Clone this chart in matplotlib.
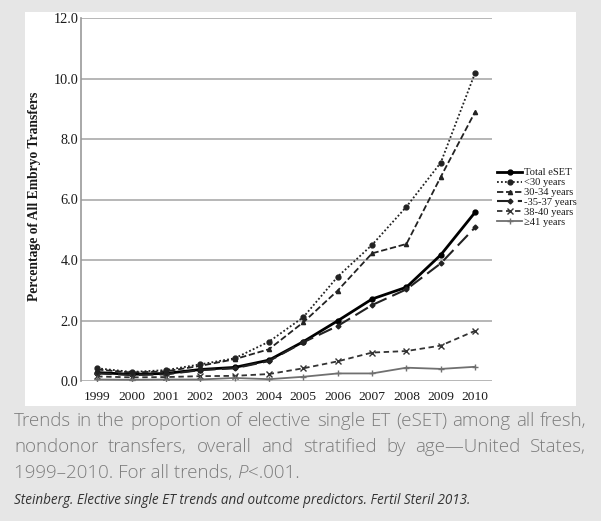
import matplotlib
matplotlib.use("Agg")
import matplotlib.pyplot as plt
from matplotlib.patches import Rectangle

years = [1999, 2000, 2001, 2002, 2003, 2004, 2005, 2006, 2007, 2008, 2009, 2010]
total_eset = [0.28, 0.22, 0.25, 0.38, 0.45, 0.69, 1.30, 1.99, 2.71, 3.10, 4.17, 5.58]
under_30 = [0.42, 0.30, 0.36, 0.55, 0.75, 1.30, 2.11, 3.45, 4.50, 5.76, 7.22, 10.19]
age_30_34 = [0.38, 0.28, 0.32, 0.50, 0.72, 1.05, 1.94, 2.99, 4.22, 4.53, 6.75, 8.90]
age_35_37 = [0.25, 0.20, 0.22, 0.36, 0.42, 0.66, 1.28, 1.82, 2.51, 3.03, 3.89, 5.08]
age_38_40 = [0.15, 0.12, 0.13, 0.16, 0.17, 0.23, 0.42, 0.65, 0.94, 0.99, 1.17, 1.66]
age_41 = [0.05, 0.04, 0.05, 0.05, 0.10, 0.06, 0.14, 0.25, 0.25, 0.44, 0.40, 0.47]
labels = ["Total eSET", "<30 years", "30-34 years", "-35-37 years", "38-40 years", "\u226541 years"]
yticks = [0.0, 2.0, 4.0, 6.0, 8.0, 10.0, 12.0]

caption1 = "Trends in the proportion of elective single ET (eSET) among all fresh,"
caption2 = "nondonor transfers, overall and stratified by age\u2014United States,"
caption3_parts = [("1999\u20132010. For all trends, ", "normal"), ("P", "italic"), ("<.001.", "normal")]
citation = "Steinberg. Elective single ET trends and outcome predictors. Fertil Steril 2013."

W, H = 601, 521
fig = plt.figure(figsize=(W / 100, H / 100), dpi=100)
fig.patch.set_facecolor("#e6e6e6")
fig.patches.append(Rectangle((25 / W, 1 - 406 / H), 551 / W, 394 / H,
                             transform=fig.transFigure, facecolor="white",
                             edgecolor="none", zorder=-5))

ax = fig.add_axes([81 / W, 1 - 381 / H, (492 - 81) / W, (381 - 18) / H])
ax.set_zorder(2)
ax.set_facecolor("none")
serif = "Liberation Serif"

styles = [
    dict(color="black", lw=2.0, ls="-", marker="o", ms=3.5),
    dict(color="#222222", lw=1.3, ls=(0, (1, 1.2)), marker="o", ms=3.5),
    dict(color="#222222", lw=1.3, ls=(0, (3.5, 1.5)), marker="^", ms=3),
    dict(color="#222222", lw=1.5, ls=(0, (7, 3)), marker="D", ms=2.5),
    dict(color="#333333", lw=1.3, ls=(0, (3, 2)), marker="x", ms=4),
    dict(color="#707070", lw=1.3, ls="-", marker="+", ms=5),
]
series = [total_eset, under_30, age_30_34, age_35_37, age_38_40, age_41]
for vals, lab, st in zip(series, labels, styles):
    ax.plot(years, vals, label=lab, mew=1.0, **st)

ax.set_xlim(1998.53, 2010.49)
ax.set_ylim(0, 12)
ax.set_yticks(yticks)
ax.set_yticklabels([f"{v:.1f}" for v in yticks], fontsize=10.3, family=serif, color="#1a1a1a")
ax.set_xticks(years)
ax.set_xticklabels([str(y) for y in years], fontsize=9.7, family=serif, color="#1a1a1a")
ax.tick_params(axis="both", length=0)
ax.tick_params(axis="y", pad=2)
ax.tick_params(axis="x", pad=7)
ax.grid(axis="y", color="#aaaaaa", lw=1.2)
ax.set_axisbelow(True)
for s in ["top", "right", "bottom"]:
    ax.spines[s].set_visible(False)
ax.spines["left"].set_color("#999999")
ax.spines["left"].set_linewidth(1.2)

fig.text(35 / W, 1 - 196 / H, "Percentage of All Embryo Transfers", rotation=90,
         ha="center", va="center", fontsize=9.8, fontweight="bold", family=serif,
         color="#1a1a1a")

leg = fig.legend(loc="upper left", bbox_to_anchor=(497 / W, 1 - 168 / H),
                 frameon=False, prop=dict(family=serif, size=7.6),
                 handlelength=2.4, handletextpad=0.15, labelspacing=0.05,
                 borderaxespad=0, borderpad=0)
for t in leg.get_texts():
    t.set_color("#1a1a1a")

x0, x1 = 14, 586
cap_kw = dict(family="Open Sans", color="#7c7c7c", fontsize=13.2, va="baseline",
              fontweight="light")

# fit caption size so the first line fills the column
probe = fig.text(0, 0, caption1, **cap_kw)
fig.canvas.draw()
pw = probe.get_window_extent(fig.canvas.get_renderer()).width
probe.remove()
cap_kw["fontsize"] = 13.2 * (x1 - x0) / pw

def justify(text, ybase):
    words = text.split(" ")
    ts = [fig.text(0, 1 - ybase / H, w, **cap_kw) for w in words]
    fig.canvas.draw()
    r = fig.canvas.get_renderer()
    widths = [t.get_window_extent(r).width for t in ts]
    gap = (x1 - x0 - sum(widths)) / (len(words) - 1)
    x = x0
    for t, w in zip(ts, widths):
        t.set_x(x / W)
        x += w + gap

justify(caption1, 426)
justify(caption2, 452)

x = x0
for part, style in caption3_parts:
    t = fig.text(x / W, 1 - 478 / H, part, style=style, **cap_kw)
    fig.canvas.draw()
    x += t.get_window_extent(fig.canvas.get_renderer()).width
    if part.endswith(" "):
        pass

fig.text(x0 / W, 1 - 504 / H, citation, family="Open Sans", style="italic",
         color="#333333", fontsize=9.75, va="baseline")

fig.savefig("out.png", dpi=100, facecolor=fig.get_facecolor())
